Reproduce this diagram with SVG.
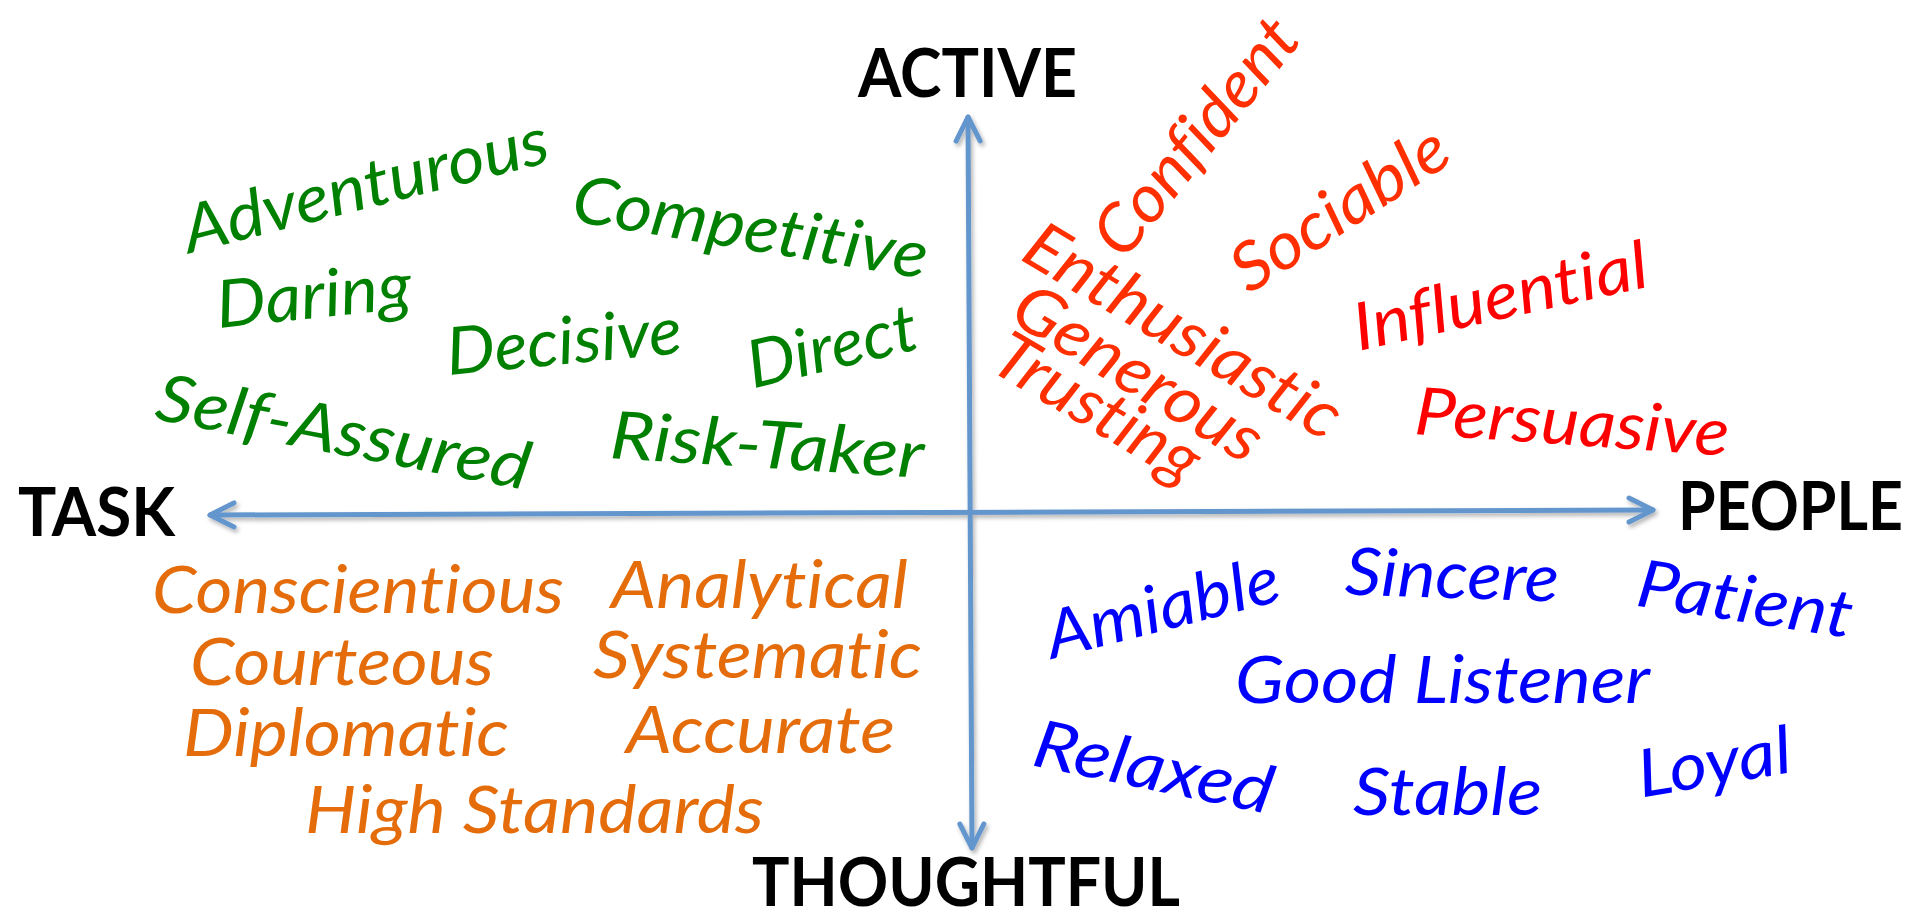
<svg xmlns="http://www.w3.org/2000/svg" width="1915" height="913" viewBox="0 0 1915 913">
<defs>
<style>
text{font-variant-ligatures:none;font-feature-settings:"liga" 0,"clig" 0,"dlig" 0}
.hdr{font-family:Lato,"Liberation Sans",sans-serif;font-weight:700;font-size:66px;fill:#000}
.w{font-family:Lato,"Open Sans","Liberation Sans",sans-serif;font-style:italic;font-size:66px}
.g{fill:#008000}.r{fill:#ff2f00}.r2{fill:#ff0000}.o{fill:#e46c0a}.b{fill:#0000ff}
.axis{stroke:#6496cd;stroke-width:5;fill:none;stroke-linecap:round}
</style>
<marker id="arr" viewBox="-30 -16 34 32" markerWidth="34" markerHeight="32" refX="0" refY="0" markerUnits="userSpaceOnUse" orient="auto-start-reverse">
<path d="M-24,-12 L0,0 L-24,12" fill="none" stroke="#6496cd" stroke-width="5" stroke-linecap="round" stroke-linejoin="round"/>
</marker>
<filter id="sh" x="-5%" y="-5%" width="110%" height="110%">
<feDropShadow dx="2" dy="3" stdDeviation="2" flood-color="#000" flood-opacity="0.3"/>
</filter>
</defs>
<rect width="1915" height="913" fill="#fff"/>
<g id="connectors" filter="url(#sh)">
<line class="axis" x1="968" y1="117" x2="972" y2="848" marker-start="url(#arr)" marker-end="url(#arr)"/>
<line class="axis" x1="210" y1="515" x2="1653" y2="510" marker-start="url(#arr)" marker-end="url(#arr)"/>
</g>
<g id="label-active"><text class="hdr" x="858" y="97" textLength="219" lengthAdjust="spacingAndGlyphs">ACTIVE</text></g>
<g id="label-task"><text class="hdr" x="18" y="536" textLength="157" lengthAdjust="spacingAndGlyphs">TASK</text></g>
<g id="label-people"><text class="hdr" x="1678" y="530" textLength="225" lengthAdjust="spacingAndGlyphs">PEOPLE</text></g>
<g id="label-thoughtful"><text class="hdr" x="752" y="906" textLength="428" lengthAdjust="spacingAndGlyphs">THOUGHTFUL</text></g>

<g id="w-adventurous"><text class="w g" transform="translate(366,188) rotate(-14.2)" y="20" text-anchor="middle" textLength="375" lengthAdjust="spacingAndGlyphs">Adventurous</text></g>
<g id="w-competitive"><text class="w g" transform="translate(750,230) rotate(9.3)" y="20" text-anchor="middle" textLength="359" lengthAdjust="spacingAndGlyphs">Competitive</text></g>
<g id="w-daring"><text class="w g" transform="translate(314,298) rotate(-5.9)" y="20" text-anchor="middle" textLength="196" lengthAdjust="spacingAndGlyphs">Daring</text></g>
<g id="w-decisive"><text class="w g" transform="translate(564,344) rotate(-5.4)" y="20" text-anchor="middle" textLength="236" lengthAdjust="spacingAndGlyphs">Decisive</text></g>
<g id="w-direct"><text class="w g" transform="translate(832,347) rotate(-13.4)" y="22" text-anchor="middle" textLength="173" lengthAdjust="spacingAndGlyphs">Direct</text></g>
<g id="w-selfassured"><text class="w g" transform="translate(344,431) rotate(10.8)" y="24" text-anchor="middle" textLength="379" lengthAdjust="spacingAndGlyphs">Self-Assured</text></g>
<g id="w-risktaker"><text class="w g" transform="translate(767,448) rotate(3.6)" y="20" text-anchor="middle" textLength="314" lengthAdjust="spacingAndGlyphs">Risk-Taker</text></g>

<g id="w-confident"><text class="w r" transform="translate(1196,137) rotate(-51)" y="22" text-anchor="middle" textLength="285" lengthAdjust="spacingAndGlyphs">Confident</text></g>
<g id="w-sociable"><text class="w r" transform="translate(1341,211) rotate(-33)" y="20" text-anchor="middle" textLength="246" lengthAdjust="spacingAndGlyphs">Sociable</text></g>
<g id="w-enthusiastic"><text class="w r" transform="translate(1182,333) rotate(30.8)" y="20" text-anchor="middle" textLength="357" lengthAdjust="spacingAndGlyphs">Enthusiastic</text></g>
<g id="w-generous"><text class="w r" transform="translate(1137,375) rotate(31.4)" y="20" text-anchor="middle" textLength="280" lengthAdjust="spacingAndGlyphs">Generous</text></g>
<g id="w-trusting"><text class="w r" transform="translate(1096,410) rotate(30.5)" y="20" text-anchor="middle" textLength="229" lengthAdjust="spacingAndGlyphs">Trusting</text></g>
<g id="w-influential"><text class="w r2" transform="translate(1500,295) rotate(-12.5)" y="24" text-anchor="middle" textLength="300" lengthAdjust="spacingAndGlyphs">Influential</text></g>
<g id="w-persuasive"><text class="w r2" transform="translate(1572,425) rotate(4)" y="20" text-anchor="middle" textLength="315" lengthAdjust="spacingAndGlyphs">Persuasive</text></g>

<g id="w-conscientious"><text class="w o" x="152" y="613" textLength="412" lengthAdjust="spacingAndGlyphs">Conscientious</text></g>
<g id="w-courteous"><text class="w o" x="190" y="685" textLength="304" lengthAdjust="spacingAndGlyphs">Courteous</text></g>
<g id="w-diplomatic"><text class="w o" x="183" y="756" textLength="326" lengthAdjust="spacingAndGlyphs">Diplomatic</text></g>
<g id="w-highstandards"><text class="w o" x="305" y="833" textLength="459" lengthAdjust="spacingAndGlyphs">High Standards</text></g>
<g id="w-analytical"><text class="w o" x="611" y="608" textLength="297" lengthAdjust="spacingAndGlyphs">Analytical</text></g>
<g id="w-systematic"><text class="w o" x="593" y="678" textLength="329" lengthAdjust="spacingAndGlyphs">Systematic</text></g>
<g id="w-accurate"><text class="w o" x="626" y="753" textLength="269" lengthAdjust="spacingAndGlyphs">Accurate</text></g>

<g id="w-amiable"><text class="w b" transform="translate(1163,610) rotate(-14.3)" y="20" text-anchor="middle" textLength="239" lengthAdjust="spacingAndGlyphs">Amiable</text></g>
<g id="w-sincere"><text class="w b" transform="translate(1452,578) rotate(1.9)" y="20" text-anchor="middle" textLength="214" lengthAdjust="spacingAndGlyphs">Sincere</text></g>
<g id="w-patient"><text class="w b" transform="translate(1745,600) rotate(8.6)" y="22" text-anchor="middle" textLength="217" lengthAdjust="spacingAndGlyphs">Patient</text></g>
<g id="w-goodlistener"><text class="w b" x="1235" y="703" textLength="415" lengthAdjust="spacingAndGlyphs">Good Listener</text></g>
<g id="w-relaxed"><text class="w b" transform="translate(1154,766) rotate(11.6)" y="24" text-anchor="middle" textLength="243" lengthAdjust="spacingAndGlyphs">Relaxed</text></g>
<g id="w-stable"><text class="w b" x="1353" y="815" textLength="189" lengthAdjust="spacingAndGlyphs">Stable</text></g>
<g id="w-loyal"><text class="w b" transform="translate(1714,761) rotate(-9.5)" y="24" text-anchor="middle" textLength="155" lengthAdjust="spacingAndGlyphs">Loyal</text></g>
</svg>
